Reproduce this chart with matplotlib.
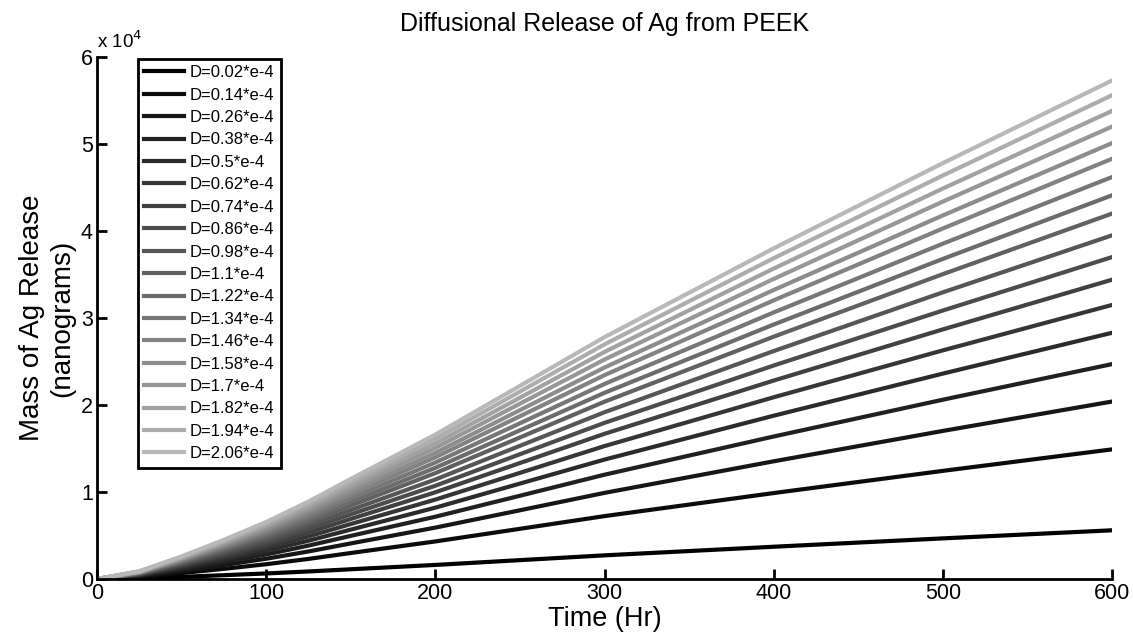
import numpy as np
import matplotlib
matplotlib.use('Agg')
import matplotlib.pyplot as plt

plt.rcParams['font.family'] = ['Liberation Sans', 'DejaVu Sans']

# Time points (Hr) and released mass (units of 1e4 nanograms)
t = [0, 25, 50, 75, 100, 125, 150, 200, 250, 300, 400, 500, 600]

D_labels = ['0.02', '0.14', '0.26', '0.38', '0.5', '0.62', '0.74', '0.86', '0.98',
            '1.1', '1.22', '1.34', '1.46', '1.58', '1.7', '1.82', '1.94', '2.06']

m_002 = [0, 0.009, 0.025, 0.044, 0.064, 0.087, 0.112, 0.162, 0.217, 0.272, 0.371, 0.467, 0.56]
m_014 = [0, 0.023, 0.068, 0.117, 0.170, 0.231, 0.299, 0.432, 0.577, 0.723, 0.988, 1.243, 1.49]
m_026 = [0, 0.032, 0.093, 0.160, 0.233, 0.317, 0.409, 0.591, 0.790, 0.990, 1.353, 1.702, 2.04]
m_038 = [0, 0.039, 0.112, 0.194, 0.282, 0.384, 0.496, 0.716, 0.957, 1.199, 1.638, 2.061, 2.47]
m_050 = [0, 0.044, 0.128, 0.222, 0.324, 0.440, 0.568, 0.820, 1.097, 1.373, 1.877, 2.361, 2.83]
m_062 = [0, 0.049, 0.143, 0.247, 0.360, 0.489, 0.632, 0.913, 1.220, 1.528, 2.089, 2.628, 3.15]
m_074 = [0, 0.054, 0.156, 0.270, 0.393, 0.534, 0.690, 0.997, 1.333, 1.669, 2.281, 2.869, 3.44]
m_086 = [0, 0.058, 0.168, 0.291, 0.423, 0.575, 0.743, 1.072, 1.434, 1.795, 2.454, 3.086, 3.70]
m_098 = [0, 0.062, 0.179, 0.310, 0.452, 0.614, 0.793, 1.144, 1.531, 1.917, 2.620, 3.295, 3.95]
m_110 = [0, 0.066, 0.191, 0.330, 0.480, 0.652, 0.843, 1.217, 1.627, 2.038, 2.785, 3.504, 4.20]
m_122 = [0, 0.069, 0.200, 0.346, 0.504, 0.685, 0.885, 1.278, 1.709, 2.140, 2.925, 3.679, 4.41]
m_134 = [0, 0.073, 0.210, 0.363, 0.528, 0.718, 0.927, 1.339, 1.790, 2.242, 3.064, 3.854, 4.62]
m_146 = [0, 0.076, 0.219, 0.379, 0.552, 0.750, 0.969, 1.399, 1.871, 2.343, 3.203, 4.029, 4.83]
m_158 = [0, 0.079, 0.227, 0.393, 0.573, 0.778, 1.005, 1.451, 1.941, 2.431, 3.322, 4.179, 5.01]
m_170 = [0, 0.082, 0.236, 0.408, 0.594, 0.808, 1.044, 1.507, 2.015, 2.523, 3.449, 4.338, 5.20]
m_182 = [0, 0.085, 0.244, 0.423, 0.615, 0.836, 1.080, 1.559, 2.084, 2.610, 3.568, 4.488, 5.38]
m_194 = [0, 0.087, 0.252, 0.437, 0.636, 0.864, 1.116, 1.611, 2.154, 2.697, 3.687, 4.638, 5.56]
m_206 = [0, 0.090, 0.260, 0.450, 0.655, 0.890, 1.150, 1.660, 2.220, 2.780, 3.800, 4.780, 5.73]

series = [m_002, m_014, m_026, m_038, m_050, m_062, m_074, m_086, m_098,
          m_110, m_122, m_134, m_146, m_158, m_170, m_182, m_194, m_206]

fig = plt.figure(figsize=(11.33, 6.43), dpi=100)
ax = fig.add_axes([0.0856, 0.0995, 0.8959, 0.8119])

greys = np.linspace(0.0, 0.72, len(series))
for lab, m, g in zip(D_labels, series, greys):
    ax.plot(t, m, color=(g, g, g), linewidth=3, label='D=' + lab + '*e-4')

ax.set_xlim(0, 600)
ax.set_ylim(0, 6)
ax.set_xticks(range(0, 601, 100))
ax.set_yticks(range(0, 7))
ax.spines['top'].set_visible(False)
ax.spines['right'].set_visible(False)
ax.spines['left'].set_linewidth(2)
ax.spines['bottom'].set_linewidth(2)
ax.tick_params(direction='in', length=7, width=2, labelsize=15.5, pad=3)

ax.set_title('Diffusional Release of Ag from PEEK', fontsize=18, pad=19)
ax.set_xlabel('Time (Hr)', fontsize=19.5, labelpad=1)
ax.set_ylabel('Mass of Ag Release\n(nanograms)', fontsize=20, labelpad=4)
ax.text(0.0, 1.01, r'x 10$^4$', transform=ax.transAxes, fontsize=13.5,
        ha='left', va='bottom')

leg = ax.legend(loc='upper left', bbox_to_anchor=(0.040, 0.997), borderaxespad=0,
                fontsize=12, labelspacing=0.445, handlelength=2.4, handletextpad=0.3,
                borderpad=0.4, fancybox=False, framealpha=1)
leg.get_frame().set_edgecolor('black')
leg.get_frame().set_linewidth(2)

fig.savefig('out.png', dpi=100)
